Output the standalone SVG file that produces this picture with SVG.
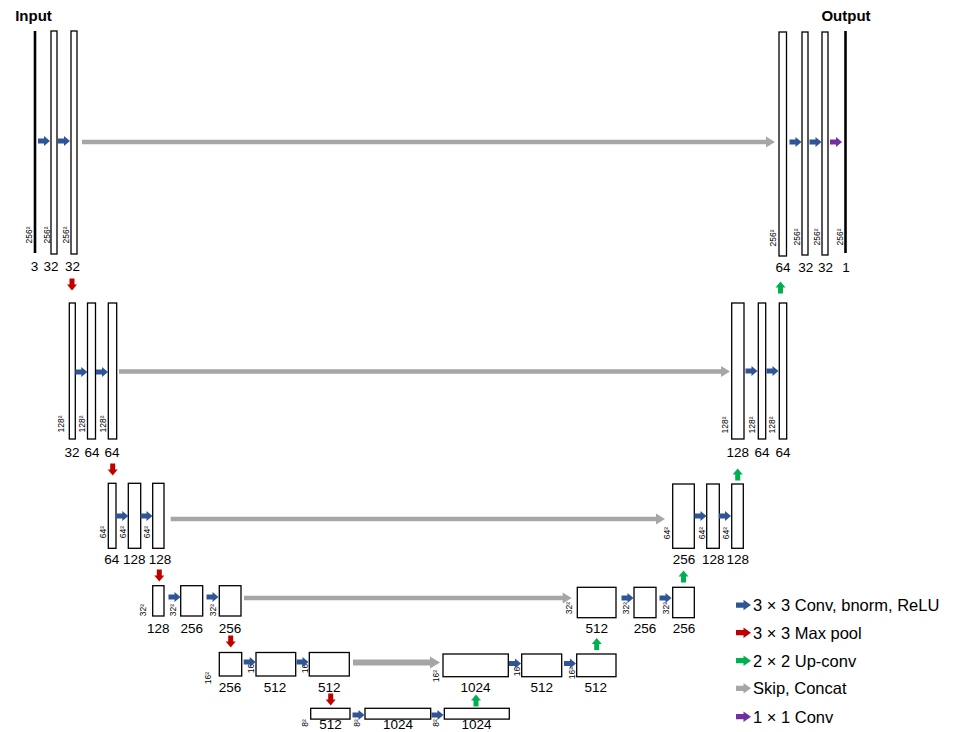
<svg xmlns="http://www.w3.org/2000/svg" xmlns:xlink="http://www.w3.org/1999/xlink" width="954" height="732" viewBox="0 0 954 732">
<style>
.bx{fill:#fff;stroke:#000;stroke-width:1.3}
.ln{stroke:#000;stroke-width:2.6;fill:none}
.n{font-family:"Liberation Sans",Arial,sans-serif;font-size:13.5px;fill:#000;text-anchor:middle}
.s{font-family:"Liberation Sans",Arial,sans-serif;font-size:8.5px;fill:#000;text-anchor:middle}
.t{font-family:"Liberation Sans",Arial,sans-serif;font-size:15px;font-weight:bold;fill:#000;text-anchor:middle}
.lg{font-family:"Liberation Sans",Arial,sans-serif;font-size:16.5px;fill:#000}
.cv{fill:#2F5597}
.mp{fill:#C00000}
.up{fill:#00B050}
.sk{fill:#A6A6A6}
.c1{fill:#7030A0}
</style>
<defs>
<path id="ar" d="M0 0 L-6 -5 L-6 -2.5 L-12 -2.5 L-12 2.5 L-6 2.5 L-6 5 Z"/>
</defs>
<rect width="954" height="732" fill="#fff"/>
<text class="t" x="33.5" y="20.5">Input</text>
<text class="t" x="846" y="20.5">Output</text>

<!-- Level 1 left -->
<g id="in">
<line class="ln" x1="35" y1="31" x2="35" y2="253"/>
<text class="n" x="34.5" y="271">3</text>
<text class="s" x="28.5" y="238" transform="rotate(-90 28.5 235)">256²</text>
</g>
<g id="e1a">
<rect class="bx" x="51" y="31" width="6" height="223"/>
<text class="n" x="51" y="271">32</text>
<text class="s" x="46.5" y="238" transform="rotate(-90 46.5 235)">256²</text>
</g>
<g id="e1b">
<rect class="bx" x="71" y="31" width="6" height="223"/>
<text class="n" x="72.5" y="271">32</text>
<text class="s" x="66" y="238" transform="rotate(-90 66 235)">256²</text>
</g>

<!-- Level 1 right -->
<g id="d1a">
<rect class="bx" x="779" y="32" width="7.5" height="224"/>
<text class="n" x="783" y="271.5">64</text>
<text class="s" x="773.3" y="241" transform="rotate(-90 773.3 238)">256²</text>
</g>
<g id="d1b">
<rect class="bx" x="802" y="32" width="6" height="223"/>
<text class="n" x="805.7" y="271.5">32</text>
<text class="s" x="797" y="240" transform="rotate(-90 797 237)">256²</text>
</g>
<g id="d1c">
<rect class="bx" x="822" y="32" width="6" height="223"/>
<text class="n" x="825.5" y="271.5">32</text>
<text class="s" x="817" y="240" transform="rotate(-90 817 237)">256²</text>
</g>
<g id="out">
<line class="ln" x1="845.5" y1="31" x2="845.5" y2="253"/>
<text class="n" x="846" y="271.5">1</text>
<text class="s" x="840" y="240" transform="rotate(-90 840 237)">256²</text>
</g>

<!-- Level 2 left -->
<g id="e2a">
<rect class="bx" x="69.3" y="303" width="6" height="136"/>
<text class="n" x="72" y="456.5">32</text>
<text class="s" x="60.7" y="427" transform="rotate(-90 60.7 424)">128²</text>
</g>
<g id="e2b">
<rect class="bx" x="87.5" y="303" width="8" height="136"/>
<text class="n" x="92" y="456.5">64</text>
<text class="s" x="81.7" y="427" transform="rotate(-90 81.7 424)">128²</text>
</g>
<g id="e2c">
<rect class="bx" x="108.3" y="303" width="8.4" height="136"/>
<text class="n" x="112" y="456.5">64</text>
<text class="s" x="102.7" y="427" transform="rotate(-90 102.7 424)">128²</text>
</g>

<!-- Level 2 right -->
<g id="d2a">
<rect class="bx" x="731.7" y="303" width="12.3" height="136"/>
<text class="n" x="737.7" y="456.5">128</text>
<text class="s" x="725" y="428" transform="rotate(-90 725 425)">128²</text>
</g>
<g id="d2b">
<rect class="bx" x="758.3" y="303" width="7.4" height="136"/>
<text class="n" x="762" y="456.5">64</text>
<text class="s" x="751.7" y="428" transform="rotate(-90 751.7 425)">128²</text>
</g>
<g id="d2c">
<rect class="bx" x="779.3" y="303" width="7.4" height="136"/>
<text class="n" x="783" y="456.5">64</text>
<text class="s" x="771.7" y="428" transform="rotate(-90 771.7 425)">128²</text>
</g>

<!-- Level 3 left -->
<g id="e3a">
<rect class="bx" x="108.3" y="483.3" width="7.7" height="65"/>
<text class="n" x="111.7" y="564">64</text>
<text class="s" x="103.3" y="535" transform="rotate(-90 103.3 532)">64²</text>
</g>
<g id="e3b">
<rect class="bx" x="128.3" y="483.3" width="12.4" height="65"/>
<text class="n" x="134.3" y="564">128</text>
<text class="s" x="123.3" y="535" transform="rotate(-90 123.3 532)">64²</text>
</g>
<g id="e3c">
<rect class="bx" x="152.7" y="483.3" width="11.3" height="65"/>
<text class="n" x="160" y="564">128</text>
<text class="s" x="147.3" y="535" transform="rotate(-90 147.3 532)">64²</text>
</g>

<!-- Level 3 right -->
<g id="d3a">
<rect class="bx" x="672.7" y="484" width="21.6" height="64.3"/>
<text class="n" x="684" y="564">256</text>
<text class="s" x="667.3" y="536" transform="rotate(-90 667.3 533)">64²</text>
</g>
<g id="d3b">
<rect class="bx" x="706.7" y="484" width="12.6" height="64.3"/>
<text class="n" x="713.3" y="564">128</text>
<text class="s" x="701.7" y="536" transform="rotate(-90 701.7 533)">64²</text>
</g>
<g id="d3c">
<rect class="bx" x="731.7" y="484" width="11.6" height="64.3"/>
<text class="n" x="737.7" y="564">128</text>
<text class="s" x="725.7" y="536" transform="rotate(-90 725.7 533)">64²</text>
</g>

<!-- Level 4 left -->
<g id="e4a">
<rect class="bx" x="152.7" y="585.7" width="11.3" height="30.3"/>
<text class="n" x="158.3" y="632.7">128</text>
<text class="s" x="143.3" y="613" transform="rotate(-90 143.3 610)">32²</text>
</g>
<g id="e4b">
<rect class="bx" x="180.7" y="585.7" width="22" height="30.3"/>
<text class="n" x="191.7" y="632.7">256</text>
<text class="s" x="173.3" y="613" transform="rotate(-90 173.3 610)">32²</text>
</g>
<g id="e4c">
<rect class="bx" x="219.3" y="585.7" width="21.7" height="30.3"/>
<text class="n" x="230" y="632.7">256</text>
<text class="s" x="212.7" y="613" transform="rotate(-90 212.7 610)">32²</text>
</g>

<!-- Level 4 right -->
<g id="d4a">
<rect class="bx" x="577.3" y="587.3" width="38.7" height="30.4"/>
<text class="n" x="596.7" y="633">512</text>
<text class="s" x="569.3" y="611" transform="rotate(-90 569.3 608)">32²</text>
</g>
<g id="d4b">
<rect class="bx" x="634" y="587.3" width="22" height="30.4"/>
<text class="n" x="645" y="633">256</text>
<text class="s" x="626" y="611" transform="rotate(-90 626 608)">32²</text>
</g>
<g id="d4c">
<rect class="bx" x="672.7" y="587.3" width="21.6" height="30.4"/>
<text class="n" x="684" y="633">256</text>
<text class="s" x="666" y="611" transform="rotate(-90 666 608)">32²</text>
</g>

<!-- Level 5 left -->
<g id="e5a">
<rect class="bx" x="219.3" y="652.5" width="22.4" height="23.5"/>
<text class="n" x="230" y="691.7">256</text>
<text class="s" x="208.3" y="681" transform="rotate(-90 208.3 678)">16²</text>
</g>
<g id="e5b">
<rect class="bx" x="256" y="652.5" width="39.7" height="23.5"/>
<text class="n" x="275" y="691.7">512</text>
<text class="s" x="250.7" y="670" transform="rotate(-90 250.7 667)">16²</text>
</g>
<g id="e5c">
<rect class="bx" x="309.3" y="652.5" width="40" height="23.5"/>
<text class="n" x="329.3" y="691.7">512</text>
<text class="s" x="305" y="670" transform="rotate(-90 305 667)">16²</text>
</g>

<!-- Level 5 right -->
<g id="d5a">
<rect class="bx" x="443" y="654" width="65.3" height="22.7"/>
<text class="n" x="475.5" y="691.7">1024</text>
<text class="s" x="436" y="679" transform="rotate(-90 436 676)">16²</text>
</g>
<g id="d5b">
<rect class="bx" x="521.7" y="654" width="40" height="22.7"/>
<text class="n" x="541.7" y="691.7">512</text>
<text class="s" x="516.7" y="673" transform="rotate(-90 516.7 670)">16²</text>
</g>
<g id="d5c">
<rect class="bx" x="576.7" y="654" width="39.3" height="22.7"/>
<text class="n" x="595.7" y="691.7">512</text>
<text class="s" x="571.7" y="676" transform="rotate(-90 571.7 673)">16²</text>
</g>

<!-- Level 6 bottleneck -->
<g id="b6a">
<rect class="bx" x="310.7" y="708.3" width="39.3" height="10.8"/>
<text class="n" x="330.5" y="728.5">512</text>
<text class="s" x="305" y="726" transform="rotate(-90 305 723)">8²</text>
</g>
<g id="b6b">
<rect class="bx" x="365" y="708.3" width="65.7" height="10.8"/>
<text class="n" x="398" y="728.5">1024</text>
<text class="s" x="356.7" y="726" transform="rotate(-90 356.7 723)">8²</text>
</g>
<g id="b6c">
<rect class="bx" x="444.3" y="708.3" width="65" height="10.8"/>
<text class="n" x="476.5" y="728.5">1024</text>
<text class="s" x="435.7" y="726" transform="rotate(-90 435.7 723)">8²</text>
</g>

<g id="connectors">
<!-- skip connections -->
<path class="sk" d="M82 139.8 H766 V136.5 L775 142 L766 147.5 V144.2 H82 Z"/>
<path class="sk" d="M119 369.3 H721 V366 L730 371.5 L721 377 V373.7 H119 Z"/>
<path class="sk" d="M170.7 516.8 H656 V513.5 L665 519 L656 524.5 V521.2 H170.7 Z"/>
<path class="sk" d="M244 595.8 H562.7 V592.5 L571.7 598 L562.7 603.5 V600.2 H244 Z"/>
<path class="sk" d="M353 659.5 H430 V656.5 L440 662.5 L430 668.5 V665.5 H353 Z"/>
<!-- conv arrows -->
<use xlink:href="#ar" class="cv" transform="translate(50 141)"/>
<use xlink:href="#ar" class="cv" transform="translate(70 141)"/>
<use xlink:href="#ar" class="cv" transform="translate(801.5 142)"/>
<use xlink:href="#ar" class="cv" transform="translate(821.5 142)"/>
<use xlink:href="#ar" class="c1" transform="translate(842 142)"/>
<use xlink:href="#ar" class="cv" transform="translate(87.3 372)"/>
<use xlink:href="#ar" class="cv" transform="translate(108 372)"/>
<use xlink:href="#ar" class="cv" transform="translate(757.5 371)"/>
<use xlink:href="#ar" class="cv" transform="translate(778.5 371)"/>
<use xlink:href="#ar" class="cv" transform="translate(128.3 516)"/>
<use xlink:href="#ar" class="cv" transform="translate(152.5 516)"/>
<use xlink:href="#ar" class="cv" transform="translate(706.5 516)"/>
<use xlink:href="#ar" class="cv" transform="translate(731 516)"/>
<use xlink:href="#ar" class="cv" transform="translate(180.5 597)"/>
<use xlink:href="#ar" class="cv" transform="translate(218.5 597)"/>
<use xlink:href="#ar" class="cv" transform="translate(633.5 598)"/>
<use xlink:href="#ar" class="cv" transform="translate(671.5 598)"/>
<use xlink:href="#ar" class="cv" transform="translate(255.7 662)"/>
<use xlink:href="#ar" class="cv" transform="translate(308.5 662)"/>
<use xlink:href="#ar" class="cv" transform="translate(521 663.5)"/>
<use xlink:href="#ar" class="cv" transform="translate(576 663.5)"/>
<use xlink:href="#ar" class="cv" transform="translate(364.5 715)"/>
<use xlink:href="#ar" class="cv" transform="translate(443.5 715)"/>
<!-- max pool -->
<use xlink:href="#ar" class="mp" transform="translate(72 290.5) rotate(90)"/>
<use xlink:href="#ar" class="mp" transform="translate(112.7 475.5) rotate(90)"/>
<use xlink:href="#ar" class="mp" transform="translate(159.3 581.5) rotate(90)"/>
<use xlink:href="#ar" class="mp" transform="translate(230.7 647.5) rotate(90)"/>
<use xlink:href="#ar" class="mp" transform="translate(330.7 705.5) rotate(90)"/>
<!-- up-conv -->
<use xlink:href="#ar" class="up" transform="translate(476 694.5) rotate(-90)"/>
<use xlink:href="#ar" class="up" transform="translate(596.7 638) rotate(-90)"/>
<use xlink:href="#ar" class="up" transform="translate(683.5 570.5) rotate(-90)"/>
<use xlink:href="#ar" class="up" transform="translate(737.7 468.5) rotate(-90)"/>
<use xlink:href="#ar" class="up" transform="translate(780.5 281.5) rotate(-90)"/>
</g>

<g id="legend">
<use xlink:href="#ar" class="cv" transform="translate(751 605) scale(1.25 1.05)"/>
<use xlink:href="#ar" class="mp" transform="translate(751 632.7) scale(1.25 1.05)"/>
<use xlink:href="#ar" class="up" transform="translate(751 660.7) scale(1.25 1.05)"/>
<use xlink:href="#ar" class="sk" transform="translate(751 688.3) scale(1.25 1.05)"/>
<use xlink:href="#ar" class="c1" transform="translate(751 716.7) scale(1.25 1.05)"/>
<text class="lg" x="753" y="611">3 × 3 Conv, bnorm, ReLU</text>
<text class="lg" x="753" y="638.7">3 × 3 Max pool</text>
<text class="lg" x="753" y="666.7">2 × 2 Up-conv</text>
<text class="lg" x="753" y="694.3">Skip, Concat</text>
<text class="lg" x="753" y="722.7">1 × 1 Conv</text>
</g>
</svg>
